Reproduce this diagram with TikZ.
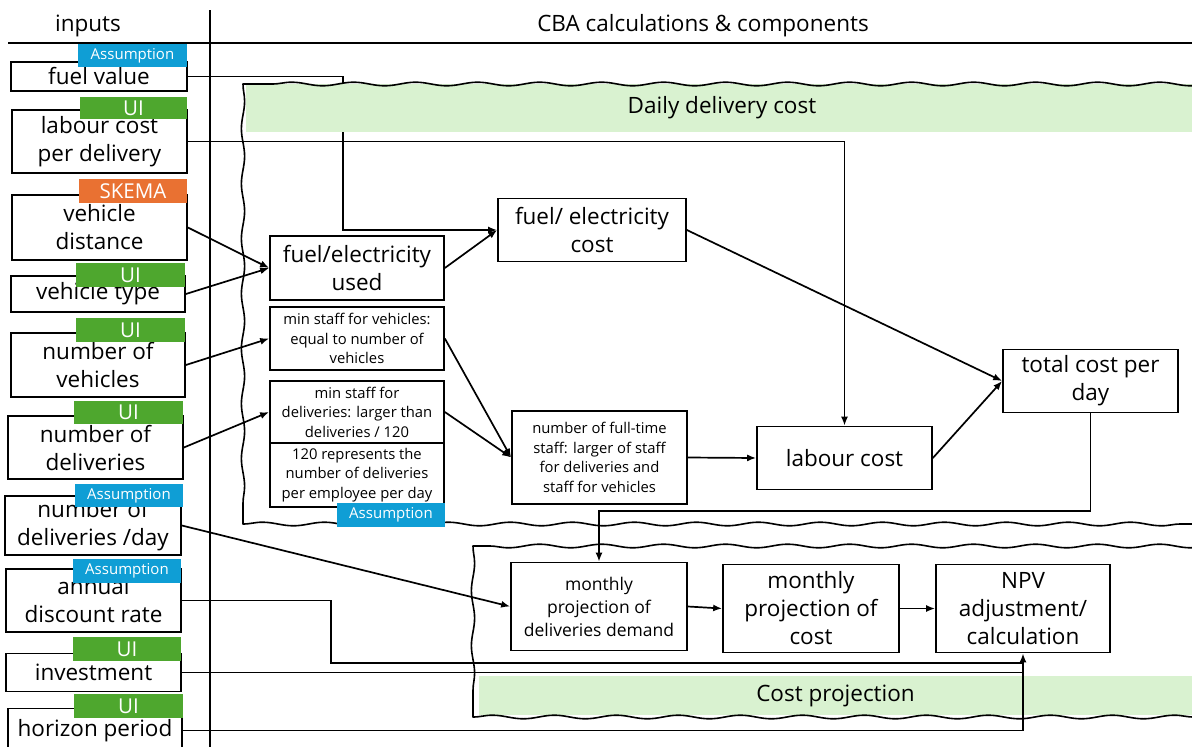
\documentclass[tikz,border=0pt]{standalone}
\usepackage{fontspec}
\setmainfont{Open Sans}
\usetikzlibrary{arrows.meta,decorations.pathmorphing}
\definecolor{asmblue}{HTML}{0F9ED5}
\definecolor{uigreen}{HTML}{4EA72E}
\definecolor{skorange}{HTML}{E97132}
\definecolor{bandgreen}{HTML}{D9F2D0}
\newcommand\fszbig{\fontsize{22.5}{28}\selectfont}
\newcommand\fszmid{\fontsize{17.5}{23}\selectfont}
\newcommand\fszsmall{\fontsize{14.8}{19.5}\selectfont}
\newcommand\fsztag{\fontsize{15}{18}\selectfont}
\newcommand\fszui{\fontsize{20.5}{24}\selectfont}
\pgfdeclarelayer{bgc}
\pgfdeclarelayer{bandl}
\pgfdeclarelayer{wave}
\pgfdeclarelayer{conn}
\pgfdeclarelayer{top}
\pgfsetlayers{bgc,bandl,wave,conn,main,top}
\begin{document}
\begin{tikzpicture}[x=1pt,y=-1pt,
  box/.style={draw, line width=1.7pt, fill=white, inner sep=0pt, align=center, font=\fszbig},
  sbox/.style={box, font=\fszsmall},
  mbox/.style={box, font=\fszmid},
  conn/.style={line width=1.7pt},
  arr/.style={conn, -{Latex[length=9pt,width=7pt]}},
  tagbox/.style={inner sep=0pt, text=white, align=center},
  asm/.style={tagbox, fill=asmblue, font=\fsztag},
  ui/.style={tagbox, fill=uigreen, font=\fszui},
  skema/.style={tagbox, fill=skorange, font=\fszui},
  band/.style={fill=bandgreen, inner sep=0pt, font=\fszbig},
  wavyh/.style={decoration={snake, amplitude=1.8pt, segment length=62pt}},
  wavyv/.style={decoration={snake, amplitude=1.6pt, segment length=55pt}},
  waveline/.style={line width=1.6pt, line join=round}
]
\useasboundingbox (0,0) rectangle (1192,747);
\clip (0,0) rectangle (1192,747);

% header
\node[font=\fszbig] (hin) at (88,26) {inputs};
\node[font=\fszbig] (hcba) at (703,26) {CBA calculations \& components};
\draw[line width=2.5pt] (8,43) -- (1192,43);
\draw[line width=1.7pt] (210,10) -- (210,747);

% input boxes
\node[box, minimum width=176pt, minimum height=29pt] (fuelval) at (99,76.5) {fuel value};
\node[box, minimum width=175pt, minimum height=63pt] (labour) at (99.5,141.5) {labour cost\\per delivery};
\node[box, minimum width=175pt, minimum height=65pt] (vdist) at (99.5,227.5) {vehicle\\distance};
\node[box, minimum width=174pt, minimum height=36pt] (vtype) at (98,294) {vehicle type};
\node[box, minimum width=174pt, minimum height=64pt] (nveh) at (98,365) {number of\\vehicles};
\node[box, minimum width=175pt, minimum height=63pt] (ndel) at (95.5,447.5) {number of\\deliveries};
\node[box, minimum width=176pt, minimum height=59pt] (ndday) at (93,525.5) {number of\\deliveries /day};
\node[box, minimum width=175pt, minimum height=63pt] (disc) at (93.5,600.5) {annual\\discount rate};
\node[box, minimum width=175pt, minimum height=38pt] (invest) at (93.5,672.5) {investment};
\node[box, minimum width=174pt, minimum height=44pt] (horizon) at (95,730.5) {horizon period};

% inner boxes
\node[box, minimum width=174pt, minimum height=64pt] (fused) at (357,268) {fuel/electricity\\used};
\node[box, minimum width=188pt, minimum height=63pt] (fcost) at (592,230) {fuel/ electricity\\cost};
\node[sbox, minimum width=174pt, minimum height=63pt] (msv) at (357,338.5) {min staff for vehicles:\\equal to number of\\vehicles};
\node[sbox, minimum width=174pt, minimum height=62pt] (msd) at (357,412) {min staff for\\deliveries: larger than\\deliveries / 120};
\node[sbox, minimum width=174pt, minimum height=64pt] (r120) at (357,475) {120 represents the\\number of deliveries\\per employee per day};
\node[sbox, minimum width=175pt, minimum height=93pt] (fts) at (599.5,457.5) {number of full-time\\staff: larger of staff\\for deliveries and\\staff for vehicles};
\node[box, minimum width=175pt, minimum height=63pt] (lcost) at (844.5,458) {labour cost};
\node[box, minimum width=175pt, minimum height=63pt] (tcost) at (1090.5,381) {total cost per\\day};
\node[mbox, minimum width=176pt, minimum height=88pt] (mpd) at (599,606.5) {monthly\\projection of\\deliveries demand};
\node[box, minimum width=176pt, minimum height=88pt] (mpc) at (811,608.5) {monthly\\projection of\\cost};
\node[box, minimum width=174pt, minimum height=88pt] (npv) at (1023,608.5) {NPV\\adjustment/\\calculation};

% tags
\begin{pgfonlayer}{top}
\node[asm, minimum width=109pt, minimum height=23pt] (t1) at (132.5,55.5) {Assumption};
\node[ui, minimum width=107pt, minimum height=22pt] (t2) at (133.5,108) {UI};
\node[skema, minimum width=108pt, minimum height=24pt] (t3) at (133,191) {SKEMA};
\node[ui, minimum width=109pt, minimum height=24pt] (t4) at (130.5,275) {UI};
\node[ui, minimum width=109pt, minimum height=24pt] (t5) at (130.5,330) {UI};
\node[ui, minimum width=109pt, minimum height=23pt] (t6) at (128.5,412.5) {UI};
\node[asm, minimum width=108pt, minimum height=23pt] (t7) at (129,495.5) {Assumption};
\node[asm, minimum width=108pt, minimum height=24pt] (t8) at (127,571) {Assumption};
\node[ui, minimum width=108pt, minimum height=24pt] (t9) at (127,649) {UI};
\node[ui, minimum width=109pt, minimum height=24pt] (t10) at (128.5,706) {UI};
\node[asm, minimum width=108pt, minimum height=24pt] (t11) at (391,515) {Assumption};
\end{pgfonlayer}

% connector hidden under the band
\begin{pgfonlayer}{bgc}
\draw[arr] (fuelval.east) -- (343,76.5) |- (fcost.west);
\end{pgfonlayer}

% bands
\begin{pgfonlayer}{bandl}
\node[band, minimum width=952pt, minimum height=48pt] (band1) at (722,108) {Daily delivery cost};
\node[band, minimum width=713pt, minimum height=39pt] (band2) at (835.5,695.5) {Cost projection};
\end{pgfonlayer}

% wavy regions
\begin{pgfonlayer}{wave}
\draw[waveline] (1210,84) decorate[wavyh]{-- (243,84)} decorate[wavyv]{-- (243,524)} decorate[wavyh]{-- (1210,524)};
\draw[waveline] (1210,546) decorate[wavyh]{-- (473,546)} decorate[wavyv]{-- (473,717)} decorate[wavyh]{-- (1210,717)};
\end{pgfonlayer}

% connectors
\begin{pgfonlayer}{conn}
\coordinate (j1) at (599,511);
\coordinate (d1) at (331,663);
\draw[arr] (labour.east) -| (lcost.north);
\draw[arr] (vdist.east) -- (fused.west);
\draw[arr] (vtype.east) -- (fused.west);
\draw[arr] (nveh.east) -- (msv.west);
\draw[arr] (ndel.east) -- (msd.west);
\draw[arr] (fused.east) -- (fcost.west);
\draw[arr] (fcost.east) -- (tcost.west);
\draw[arr] (msv.east) -- (fts.west);
\draw[arr] (msd.east) -- (fts.west);
\draw[arr] (fts.east) -- (lcost.west);
\draw[arr] (lcost.east) -- (tcost.west);
\draw[arr] (tcost.south) |- (j1) -- (mpd.north);
\draw[arr] (ndday.east) -- (mpd.west);
\draw[arr] (mpd.east) -- (mpc.west);
\draw[arr] (mpc.east) -- (npv.west);
\draw[conn] (disc.east) -| (d1) -- (npv.south |- d1);
\draw[conn] (invest.east) -- (invest.east -| npv.south);
\draw[arr] (horizon.east) -| (npv.south);
\end{pgfonlayer}
\end{tikzpicture}
\end{document}
